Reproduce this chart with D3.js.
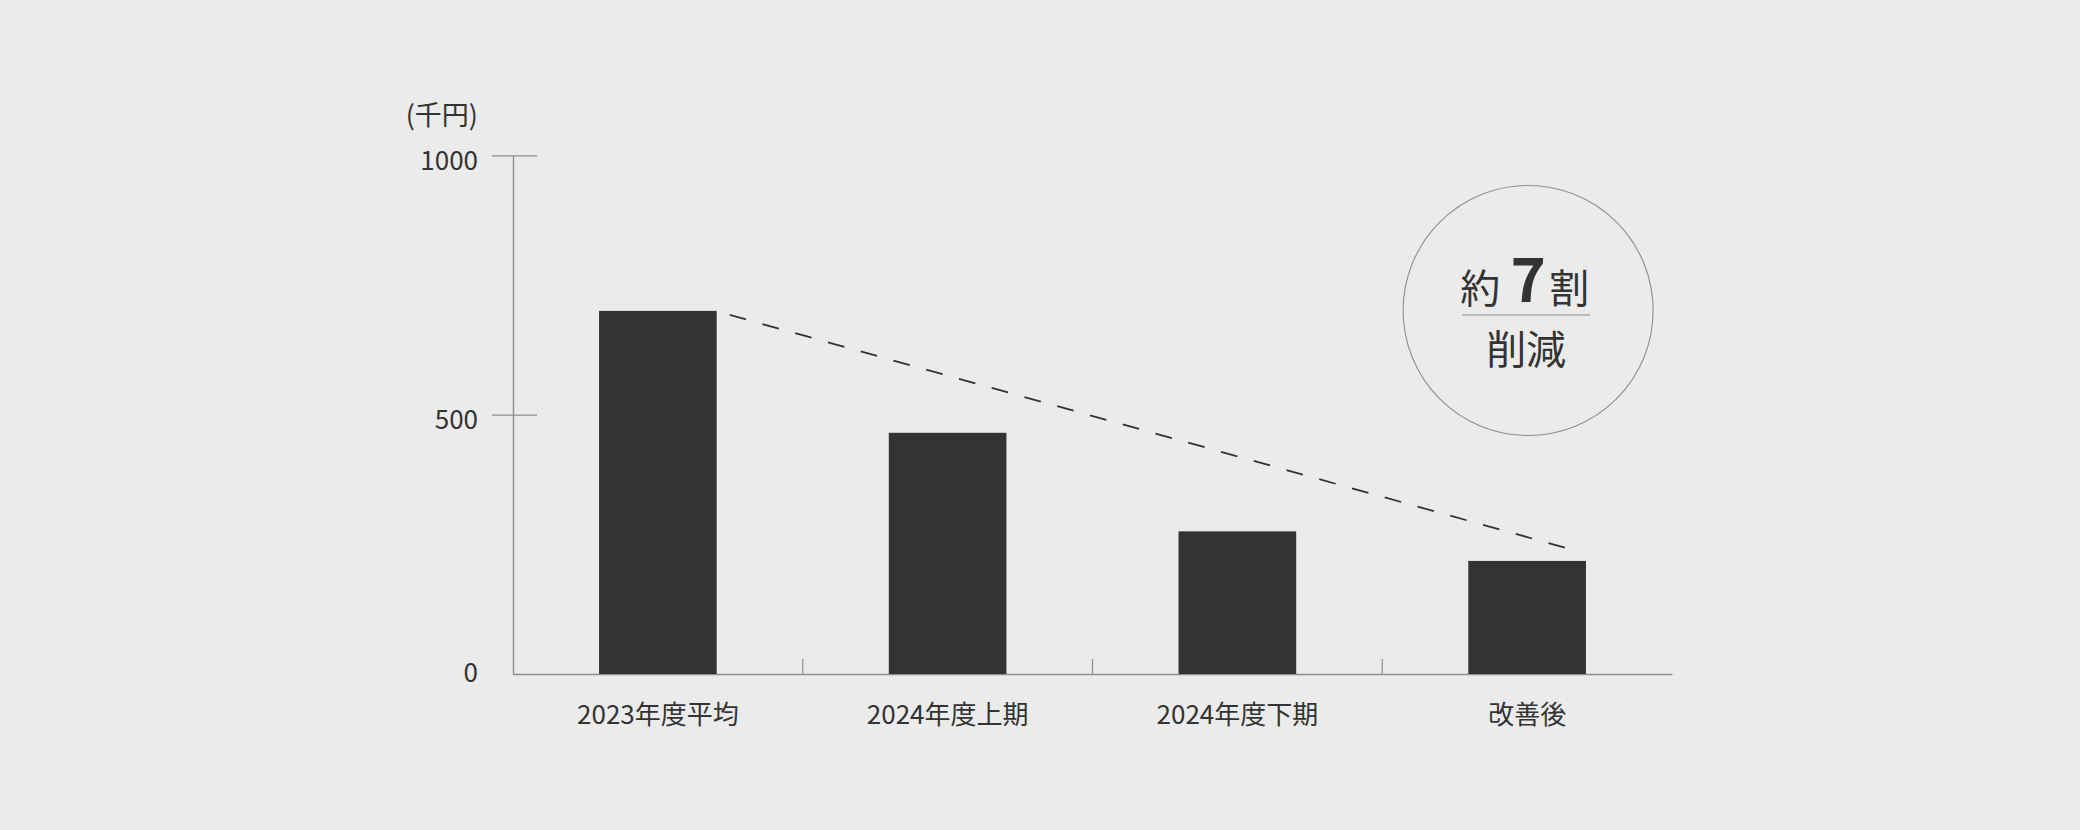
<!DOCTYPE html>
<html lang="ja">
<head>
<meta charset="utf-8">
<script src="https://cdn.jsdelivr.net/npm/d3@7"></script>
<style>
	html, body { margin: 0; padding: 0; background: #ebebeb; }
	svg { display: block; font-family: "Noto Sans CJK JP", "Noto Sans", sans-serif; }
</style>
</head>
<body>
<div id="chart"></div>
<script>
// data
let categories	= ['2023年度平均', '2024年度上期', '2024年度下期', '改善後'];
let values		= [700, 465, 275, 218];
let yTicks		= [0, 500, 1000];
let unitLabel	= '(千円)';
let badgeTop	= ['約', '7', '割'];
let badgeBottom	= '削減';

let width	= 2080;
let height	= 830;

let svg = d3.select('#chart').append('svg')
		.attr('width', width)
		.attr('height', height);

svg.append('rect')
	.attr('width', width)
	.attr('height', height)
	.attr('fill', '#ebebeb');

let x = d3.scaleBand()
		.domain(categories)
		.range([513, 1672])
		.paddingInner(0.594)
		.paddingOuter(0.297);

let y = d3.scaleLinear()
		.domain([0, 1000])
		.range([674, 155.3]);

// y axis
let yAxis = svg.append('g')
		.attr('transform', 'translate(' + x.range()[0] + ',0)')
		.call(d3.axisLeft(y).tickValues(yTicks).tickFormat(d3.format('d'))
			.tickSize(0).tickPadding(35).tickSizeOuter(0));

yAxis.select('.domain').attr('stroke', '#8e8e8e').attr('stroke-width', 1.4);
yAxis.selectAll('.tick line')
	.attr('x1', -21)
	.attr('x2', 24)
	.attr('stroke', '#8e8e8e')
	.attr('stroke-width', 1.2)
	.attr('display', (d) => (d === 0 ? 'none' : null));
yAxis.selectAll('.tick text')
	.attr('fill', '#333')
	.attr('font-size', 26)
	.attr('font-family', '"Noto Sans CJK JP", sans-serif')
	.attr('dy', (d) => (d === 0 ? '0.3em' : '0.53em'));

svg.append('text')
	.attr('x', x.range()[0] - 35)
	.attr('y', 125)
	.attr('text-anchor', 'end')
	.attr('fill', '#333')
	.attr('font-size', 27)
	.text(unitLabel);

// x axis
let xAxis = svg.append('g')
		.attr('transform', 'translate(0,' + y(0) + ')')
		.call(d3.axisBottom(x).tickSize(0).tickPadding(32).tickSizeOuter(0));

xAxis.select('.domain').attr('stroke', '#8e8e8e').attr('stroke-width', 1.4);
xAxis.selectAll('.tick text')
	.attr('fill', '#333')
	.attr('font-size', 26)
	.attr('font-family', '"Noto Sans CJK JP", sans-serif');

// separators between categories
let gap = x.step() * x.paddingInner();
xAxis.selectAll('.sep')
		.data(categories.slice(1))
	.enter().append('line')
		.attr('class', 'sep')
		.attr('x1', (d) => (x(d) - gap / 2))
		.attr('x2', (d) => (x(d) - gap / 2))
		.attr('y1', 0)
		.attr('y2', -15)
		.attr('stroke', '#8e8e8e')
		.attr('stroke-width', 1.2);

// bars
svg.selectAll('.bar')
		.data(values)
	.enter().append('rect')
		.attr('class', 'bar')
		.attr('x', (d, i) => (x(categories[i])))
		.attr('y', (d) => (y(d)))
		.attr('width', x.bandwidth())
		.attr('height', (d) => (y(0) - y(d)))
		.attr('fill', '#333333');

// dashed trend line from first to last bar
let first	= categories[0];
let last	= categories[categories.length - 1];
svg.append('line')
	.attr('x1', x(first) + x.bandwidth() + 13)
	.attr('y1', y(values[0]) + 4)
	.attr('x2', x(last) + x.bandwidth() * 0.83)
	.attr('y2', y(values[values.length - 1]) - 13)
	.attr('stroke', '#333')
	.attr('stroke-width', 1.8)
	.attr('stroke-dasharray', '17,17');

// badge
let cx = x(last) + x.bandwidth() / 2 + 1;
let cy = 310.5;
let badge = svg.append('g').attr('transform', 'translate(' + cx + ',' + cy + ')');

badge.append('circle')
	.attr('r', 125)
	.attr('fill', 'none')
	.attr('stroke', '#8e8e8e')
	.attr('stroke-width', 1.1);

badge.append('text')
	.attr('x', -48)
	.attr('y', -8)
	.attr('text-anchor', 'middle')
	.attr('fill', '#333')
	.attr('font-size', 40)
	.text(badgeTop[0]);

badge.append('text')
	.attr('x', 0)
	.attr('y', -9)
	.attr('text-anchor', 'middle')
	.attr('fill', '#333')
	.attr('font-size', 60)
	.attr('font-weight', 700)
	.text(badgeTop[1]);

badge.append('text')
	.attr('x', 41)
	.attr('y', -8)
	.attr('text-anchor', 'middle')
	.attr('fill', '#333')
	.attr('font-size', 40)
	.text(badgeTop[2]);

badge.append('line')
	.attr('x1', -66)
	.attr('x2', 62)
	.attr('y1', 4.5)
	.attr('y2', 4.5)
	.attr('stroke', '#aaaaaa')
	.attr('stroke-width', 1.5);

badge.append('text')
	.attr('x', -2)
	.attr('y', 53)
	.attr('text-anchor', 'middle')
	.attr('fill', '#333')
	.attr('font-size', 40)
	.text(badgeBottom);
</script>
</body>
</html>
